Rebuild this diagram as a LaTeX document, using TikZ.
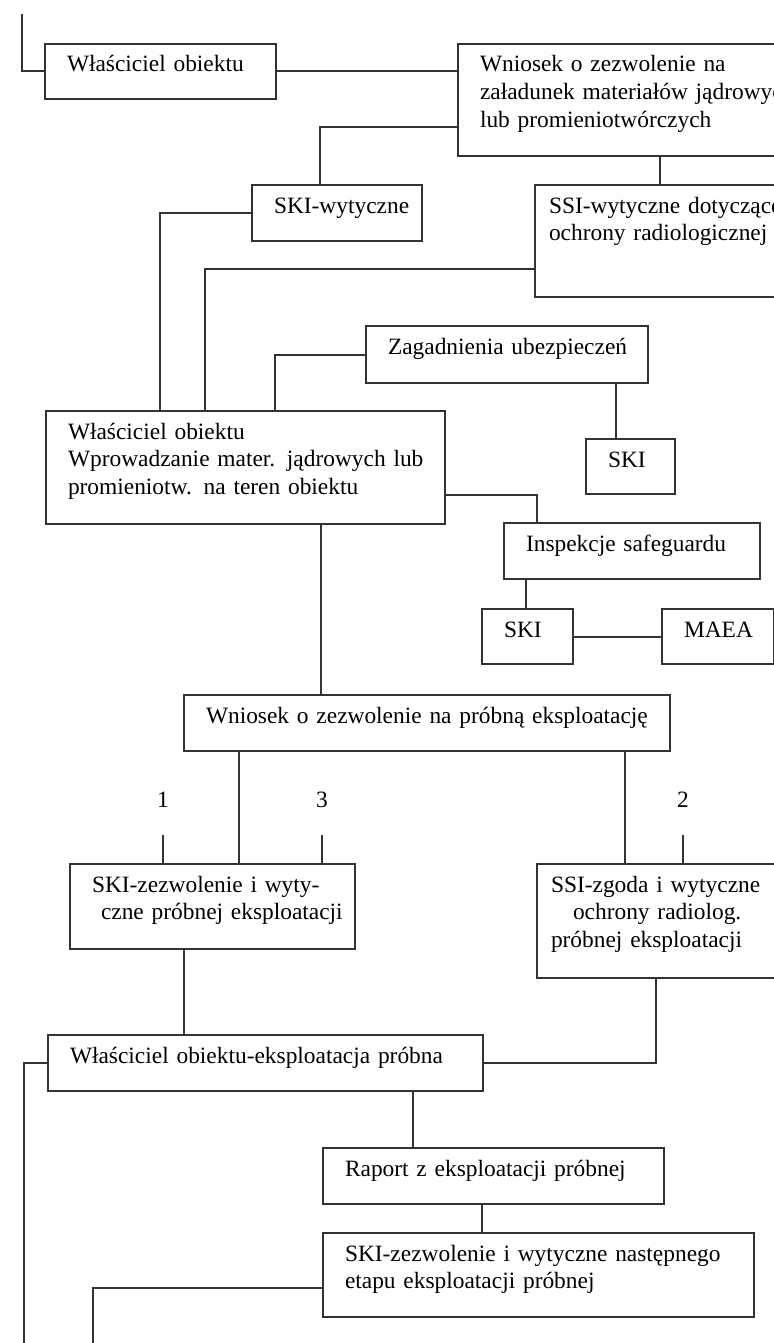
\documentclass[tikz,border=0pt]{standalone}
\usepackage{fontspec}
\setmainfont{Liberation Serif}
\usepackage{tikz}
\tikzset{blok/.style 2 args={draw, anchor=north west, inner xsep=11pt, inner ysep=6pt,
    text height=8pt, text depth={(#2)*0.5pt-20pt}, text width={(#1)*0.5pt-22pt},
    align=left, execute at begin node={\rightskip=-16pt plus 1fil\hyphenpenalty=10000\exhyphenpenalty=10000\relax}}}
\tikzset{numer/.style={anchor=base, inner sep=1pt}}

\begin{document}
\begin{tikzpicture}[line width=1pt, draw=black!80,
    every node/.style={font=\fontsize{11.7}{13.9}\selectfont}]
\begin{scope}[x=0.5pt,y=-0.5pt]
    \clip (0,0) rectangle (774,1343);
    %boxes
    \node[blok={231}{55}] (wo1) at (44,43) {Właściciel obiektu};
    \node[blok={363}{112}] (wn1) at (457,43) {Wniosek o zezwolenie na\\załadunek materiałów jądrowych\\lub promieniotwórczych};
    \node[blok={170}{56}] (skiw) at (251,184) {SKI-wytyczne};
    \node[blok={286}{112}, inner xsep=7pt] (ssiw) at (534,184) {SSI-wytyczne dotyczące\\ochrony radiologicznej};
    \node[blok={282}{57}] (zag) at (365,325) {Zagadnienia ubezpieczeń};
    \node[blok={399}{113}] (wo2) at (45,410) {Właściciel obiektu\\Wprowadzanie mater. jądrowych lub\\promieniotw. na teren obiektu};
    \node[blok={89}{55}] (ski1) at (585,438) {SKI};
    \node[blok={256}{56}] (insp) at (503,522) {Inspekcje safeguardu};
    \node[blok={91}{55}] (ski2) at (481,608) {SKI};
    \node[blok={112}{55}] (maea) at (661,608) {MAEA};
    \node[blok={486}{56}] (wn2) at (183,694) {Wniosek o zezwolenie na próbną eksploatację};
    \node[blok={285}{85}] (skiz) at (69,863) {SKI-zezwolenie i wyty-\\\hspace*{4.5pt}czne próbnej eksploatacji};
    \node[blok={284}{114}, inner xsep=7pt] (ssiz) at (536,863) {SSI-zgoda i wytyczne\\\hspace*{11pt}ochrony radiolog.\\próbnej eksploatacji};
    \node[blok={435}{56}] (wo3) at (47,1034) {Właściciel obiektu-eksploatacja próbna};
    \node[blok={341}{56}] (rap) at (322,1147) {Raport z eksploatacji próbnej};
    \node[blok={431}{84}] (skin) at (322,1232) {SKI-zezwolenie i wytyczne następnego\\etapu eksploatacji próbnej};
    %numbers
    \node[numer] (l1) at (163,807) {1};
    \node[numer] (l3) at (322,807) {3};
    \node[numer] (l2) at (683,807) {2};
    %free ends
    \coordinate (wejscie) at (22,14);
    \coordinate (wyjscie1) at (24,1343);
    \coordinate (wyjscie2) at (93,1343);
    %lines
    \draw (wejscie) |- (wo1.west);
    \draw (wo1.east) -- (wo1.east -| wn1.west);
    \draw (wn1.west |- 0,127) -| (skiw.north -| 320,0);
    \draw (wn1.south -| 660,0) -- (ssiw.north -| 660,0);
    \draw (skiw.west) -| (wo2.north -| 160,0);
    \draw (ssiw.west |- 0,269) -| (wo2.north -| 205,0);
    \draw (zag.west) -| (wo2.north -| 275,0);
    \draw (zag.south -| 616,0) -- (ski1.north -| 616,0);
    \draw (wo2.east |- 0,495) -| (insp.north -| 537,0);
    \draw (insp.south -| 526,0) -- (ski2.north -| 526,0);
    \draw (ski2.east) -- (maea.west);
    \draw (wo2.south -| 321,0) -- (wn2.north -| 321,0);
    \draw (wn2.south -| 239,0) -- (skiz.north -| 239,0);
    \draw (wn2.south -| 625,0) -- (ssiz.north -| 625,0);
    \draw (skiz.north -| l1) -- ++(0,-28);
    \draw (skiz.north -| l3) -- ++(0,-28);
    \draw (ssiz.north -| l2) -- ++(0,-28);
    \draw (skiz.south -| 184,0) -- (wo3.north -| 184,0);
    \draw (ssiz.south -| 656,0) |- (wo3.east);
    \draw (wo3.west) -| (wyjscie1);
    \draw (wo3.south -| 413,0) -- (rap.north -| 413,0);
    \draw (rap.south -| 482,0) -- (skin.north -| 482,0);
    \draw (skin.west |- 0,1288) -| (wyjscie2);
\end{scope}
\end{tikzpicture}
\end{document}
